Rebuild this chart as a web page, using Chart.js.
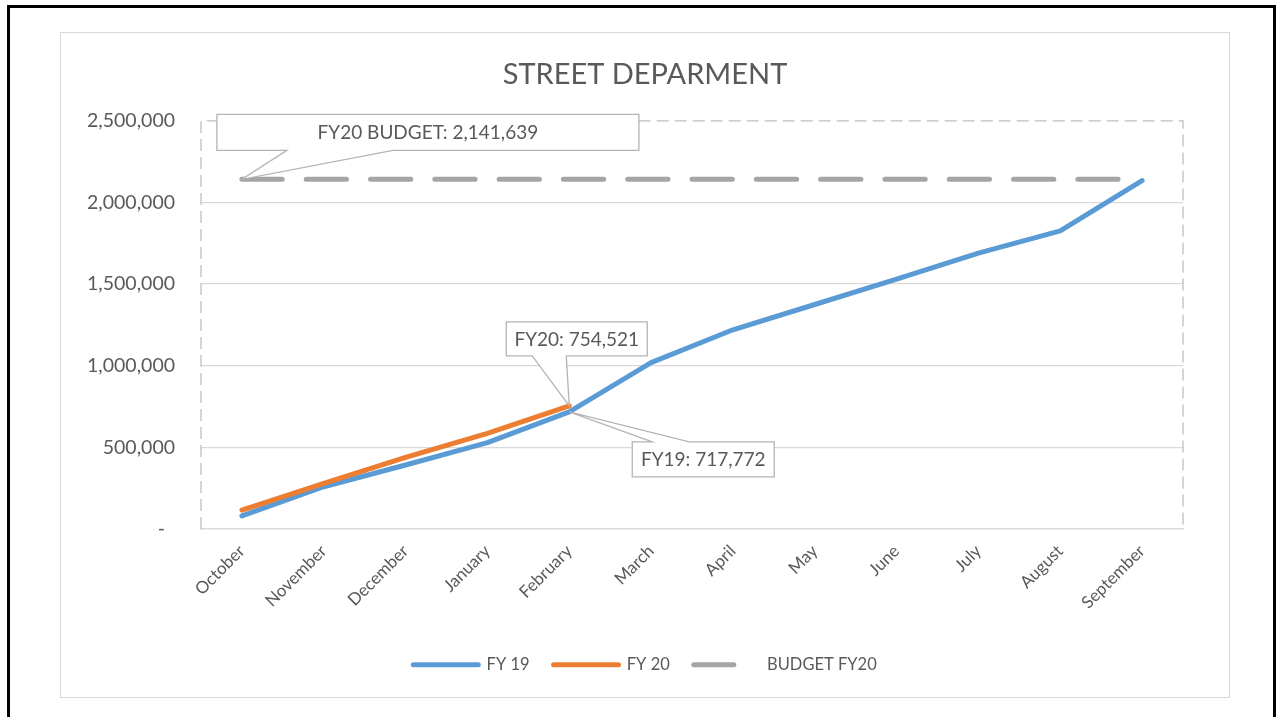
<!DOCTYPE html>
<html><head><meta charset="utf-8">
<script src="https://cdn.jsdelivr.net/npm/chart.js@4.4.0/dist/chart.umd.min.js"></script>
<style>
html,body{margin:0;padding:0;background:#fff;width:1276px;height:717px;overflow:hidden;}
#frame{position:absolute;left:7px;top:5px;width:1263px;height:780px;border:3px solid #000;}
#box{position:absolute;left:60px;top:32px;width:1168px;height:664px;border:1px solid #D9D9D9;background:#fff;}
canvas{display:block}
</style></head><body>
<div id="frame"></div>
<div id="box"><canvas id="c" width="1168" height="664"></canvas></div>
<script>
// ---- data ----
const months = ['October','November','December','January','February','March','April','May','June','July','August','September'];
const fy19 = [80000, 259000, 392000, 529000, 717772, 1019000, 1220000, 1375000, 1530000, 1690000, 1826000, 2134000];
const fy20 = [116000, 280000, 439000, 586000, 754521, null, null, null, null, null, null, null];
const budgetFY20 = [2141639, 2141639, 2141639, 2141639, 2141639, 2141639, 2141639, 2141639, 2141639, 2141639, 2141639, 2141639];
const yTickValues = [0, 500000, 1000000, 1500000, 2000000, 2500000];
const calloutLabels = ['FY20 BUDGET: 2,141,639', 'FY20: 754,521', 'FY19: 717,772'];
const seriesNames = ['FY 19', 'FY 20', 'BUDGET FY20'];
const chartTitle = 'STREET DEPARMENT';

const TXT = '#595959';
const FONT = 'Lato';

const plotFrame = {
  id: 'plotFrame',
  beforeDatasetsDraw(chart) {
    const {ctx, chartArea: a} = chart;
    ctx.save();
    ctx.strokeStyle = '#BFBFBF';
    ctx.lineWidth = 1.3;
    ctx.setLineDash([12, 6]);
    ctx.beginPath();
    ctx.moveTo(a.left, a.bottom);
    ctx.lineTo(a.left, a.top);
    ctx.lineTo(a.right, a.top);
    ctx.lineTo(a.right, a.bottom);
    ctx.stroke();
    ctx.restore();
  }
};

function drawCallout(ctx, px, py, g, text) {
  const l = px + g.l, r = px + g.r, t = py + g.t, b = py + g.b;
  ctx.beginPath();
  if (g.side === 'bottom') {
    ctx.moveTo(l, t); ctx.lineTo(r, t); ctx.lineTo(r, b);
    ctx.lineTo(px + g.w2, b); ctx.lineTo(px, py); ctx.lineTo(px + g.w1, b);
    ctx.lineTo(l, b); ctx.closePath();
  } else {
    ctx.moveTo(l, t); ctx.lineTo(px + g.w1, t); ctx.lineTo(px, py); ctx.lineTo(px + g.w2, t);
    ctx.lineTo(r, t); ctx.lineTo(r, b); ctx.lineTo(l, b); ctx.closePath();
  }
  ctx.fillStyle = '#fff';
  ctx.fill();
  ctx.strokeStyle = '#B4B4B4';
  ctx.lineWidth = 1.3;
  ctx.setLineDash([]);
  ctx.stroke();
  ctx.fillStyle = TXT;
  ctx.font = '19px ' + FONT;
  ctx.textAlign = 'center';
  ctx.textBaseline = 'middle';
  ctx.fillText(text, (l + r) / 2, (t + b) / 2 + 1);
}

const callouts = {
  id: 'callouts',
  afterDraw(chart) {
    const {ctx} = chart;
    const xs = chart.scales.x, ys = chart.scales.y;
    const specs = [
      {ds: 2, i: 0, g: {l: -25, r: 397, t: -65, b: -29, side: 'bottom', w1: 45, w2: 151}},
      {ds: 1, i: 4, g: {l: -63, r: 78, t: -84, b: -50, side: 'bottom', w1: -37, w2: -3}},
      {ds: 0, i: 4, g: {l: 63, r: 205, t: 30, b: 65, side: 'top', w1: 83, w2: 120}}
    ];
    ctx.save();
    specs.forEach((s, k) => {
      const v = chart.data.datasets[s.ds].data[s.i];
      const px = xs.getPixelForValue(s.i);
      const py = ys.getPixelForValue(v);
      drawCallout(ctx, px, py, s.g, calloutLabels[k]);
    });
    ctx.restore();
  }
};

function build() {
  const ctx = document.getElementById('c').getContext('2d');
  new Chart(ctx, {
    type: 'line',
    data: {
      labels: months,
      datasets: [
        {label: seriesNames[0], data: fy19, borderColor: '#5B9BD5', backgroundColor: '#5B9BD5', borderWidth: 5,
         pointRadius: 0, borderCapStyle: 'round', borderJoinStyle: 'round', tension: 0, order: 2},
        {label: seriesNames[1], data: fy20, borderColor: '#ED7D31', backgroundColor: '#ED7D31', borderWidth: 5,
         pointRadius: 0, borderCapStyle: 'round', borderJoinStyle: 'round', tension: 0, order: 1, spanGaps: false},
        {label: seriesNames[2], data: budgetFY20, borderColor: '#A5A5A5', backgroundColor: '#A5A5A5', borderWidth: 5,
         pointRadius: 0, borderCapStyle: 'round', borderDash: [40.3, 24], tension: 0, order: 3}
      ]
    },
    options: {
      responsive: false,
      animation: false,
      devicePixelRatio: 1,
      layout: {padding: {left: 0, right: 0, top: 0, bottom: 14}},
      plugins: {
        title: {display: true, text: chartTitle, color: TXT,
                font: {family: FONT, size: 29, weight: 'normal'}, padding: {top: 24, bottom: 29}},
        legend: {
          position: 'bottom',
          labels: {
            usePointStyle: true, pointStyle: 'line', pointStyleWidth: 65, padding: 24,
            color: TXT, font: {family: FONT, size: 16.5},
            sort: (a, b) => a.datasetIndex - b.datasetIndex,
            generateLabels(chart) {
              const items = Chart.defaults.plugins.legend.labels.generateLabels(chart);
              items.forEach(it => {
                it.pointStyle = 'line';
                it.lineCap = 'round';
                if (it.datasetIndex === 2) { it.lineDash = [40, 200]; it.lineDashOffset = 0; }
                else { it.lineDash = []; it.lineDashOffset = 0; }
              });
              return items;
            }
          }
        },
        tooltip: {enabled: false}
      },
      scales: {
        x: {
          offset: true,
          grid: {display: false, drawTicks: false, offset: true},
          border: {display: true, color: '#D9D9D9', width: 1.5},
          ticks: {color: TXT, font: {family: FONT, size: 17}, maxRotation: 45, minRotation: 45, autoSkip: false, padding: 12},
          afterFit(s) { s.height = 103.5; }
        },
        y: {
          min: yTickValues[0], max: yTickValues[yTickValues.length - 1],
          afterBuildTicks(s) { s.ticks = yTickValues.map(v => ({value: v})); },
          ticks: {
            color: TXT, font: {family: FONT, size: 19.5}, padding: 26,
            callback: v => v === 0 ? '-  ' : Number(v).toLocaleString('en-US')
          },
          grid: {color: c => (c.tick && (c.tick.value === 2500000 || c.tick.value === 0)) ? 'rgba(0,0,0,0)' : '#D9D9D9',
                 lineWidth: 1.3, drawTicks: false},
          border: {display: false},
          afterFit(s) { s.width = 140; }
        },
        yR: {
          position: 'right', display: true,
          grid: {display: false, drawTicks: false}, ticks: {display: false}, border: {display: false},
          afterFit(s) { s.width = 46; }
        }
      }
    },
    plugins: [plotFrame, callouts]
  });
}

if (document.fonts && document.fonts.load) {
  Promise.all([document.fonts.load('18px Lato'), document.fonts.load('30px Lato')]).then(build, build);
} else { build(); }
</script>
</body></html>
